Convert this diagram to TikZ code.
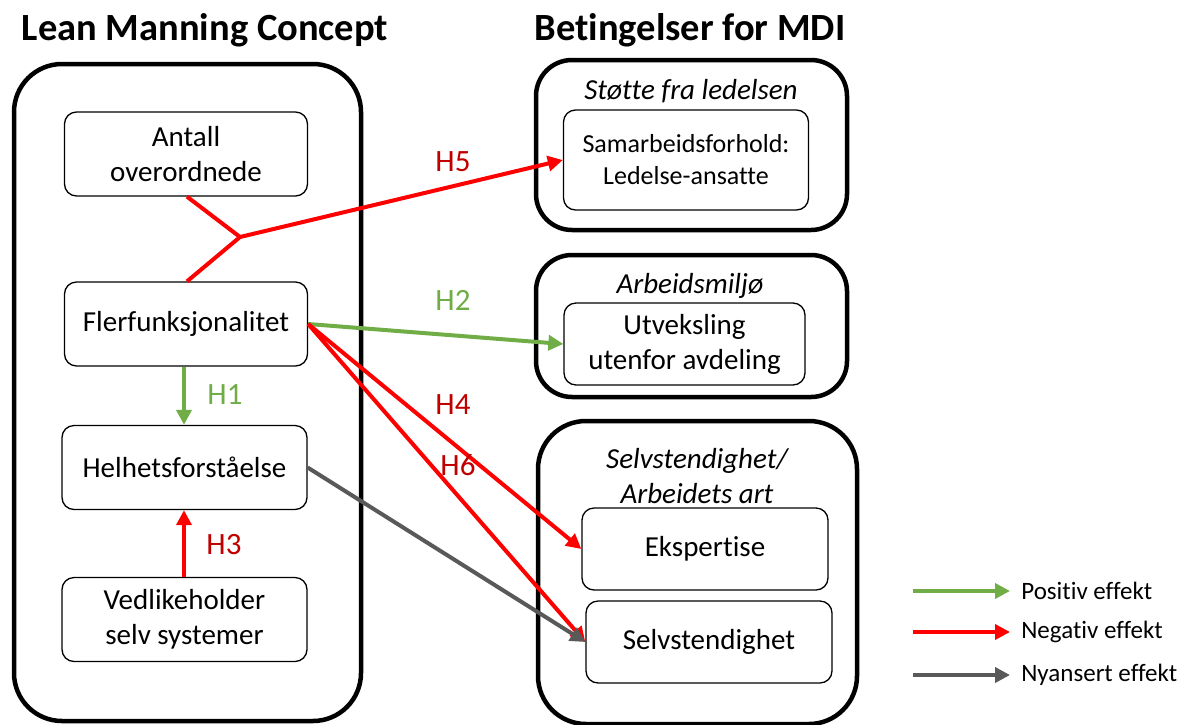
\documentclass[tikz,border=0pt]{standalone}
\usepackage{fontspec}
\setmainfont{Carlito}[Ligatures=NoCommon]
\usepackage{tikz}
\usetikzlibrary{arrows.meta}
\usepackage{xcolor}
\definecolor{posgreen}{HTML}{70AD47}
\definecolor{labred}{HTML}{C00000}
\definecolor{nyagray}{HTML}{595959}
\newcommand{\bigtxt}{\fontsize{29}{35}\selectfont}

\begin{document}
\begin{tikzpicture}[x=1pt,y=-1pt,
  box/.style={draw, rounded corners=12pt, line width=1.3pt, align=center, minimum width=243pt, minimum height=84pt, font=\bigtxt},
  group/.style={draw, rounded corners=48pt, line width=4.5pt},
  posarrow/.style={posgreen, line width=4pt, -{Triangle[length=15pt,width=15pt]}},
  negarrow/.style={red, line width=4pt, -{Triangle[length=15pt,width=15pt]}},
  nyaarrow/.style={nyagray, line width=4pt, -{Triangle[length=15pt,width=15pt]}},
  hlabel/.style={font=\fontsize{31}{36}\selectfont}]
\useasboundingbox (0,0) rectangle (1191,724);

% titles
\node [font=\fontsize{38.5}{44}\selectfont\bfseries] (tlmc) at (205,30) {Lean Manning Concept};
\node [font=\fontsize{38.5}{44}\selectfont\bfseries] (tmdi) at (690,30) {Betingelser for MDI};

% group frames
\draw [group] (14,64) rectangle (361,721);
\draw [group, rounded corners=36pt] (536,60) rectangle (847,230);
\draw [group, rounded corners=36pt] (536,255) rectangle (847,397);
\draw [group] (538,421) rectangle (857,724);

% left side
\node [box] (antall) at (186,154) {Antall\\overordnede};
\node [box] (fler) at (186,324) {Flerfunksjonalitet};
\node [box, minimum width=245pt] (helhet) at (184.5,467.5) {Helhetsforståelse};
\node [box, minimum width=245pt] (vedl) at (184.5,619.5) {Vedlikeholder\\selv systemer};

% right side
\node [font=\bigtxt\itshape] (tstotte) at (691,91) {Støtte fra ledelsen};
\node [box, minimum width=245pt, minimum height=100pt, font=\fontsize{26}{32}\selectfont] (samarb) at (686,160) {Samarbeidsforhold:\\Ledelse-ansatte};
\node [font=\bigtxt\itshape] (tarb) at (690,286) {Arbeidsmiljø};
\node [box, minimum width=241pt, minimum height=82pt] (utveks) at (684.5,344) {Utveksling\\utenfor avdeling};
\node [font=\bigtxt\itshape, align=center] (tselv) at (697,476) {Selvstendighet/\\Arbeidets art};
\node [box, minimum width=246pt, minimum height=82pt] (ekspert) at (705,549) {Ekspertise};
\node [box, minimum width=246pt, minimum height=82pt] (selv) at (709,642) {Selvstendighet};

% hypotheses
\coordinate (knot) at (240,237);
\draw [red, line width=4pt] (antall.south) ++(1,0) -- (knot) -- ([xshift=1pt]fler.north);
\draw [negarrow] (knot) -- (samarb.west);
\draw [posarrow] (fler.east) -- (utveks.west);
\draw [posarrow] ([xshift=-2pt]fler.south) -- ([xshift=-0.5pt]helhet.north);
\draw [negarrow] ([xshift=-0.5pt]vedl.north) -- ([xshift=-0.5pt]helhet.south);
\draw [negarrow] (fler.east) -- (ekspert.west);
\draw [negarrow] (fler.east) -- (selv.west);
\draw [nyaarrow] (helhet.east) -- (selv.west);

\node [hlabel, labred] (h5) at (453,162) {H5};
\node [hlabel, posgreen] (h2) at (453,300) {H2};
\node [hlabel, posgreen] (h1) at (225,395) {H1};
\node [hlabel, labred] (h3) at (224,545) {H3};
\node [hlabel, labred] (h4) at (453,405) {H4};
\node [hlabel, labred] (h6) at (458,465) {H6};

% legend
\coordinate (lpos) at (913,591);
\coordinate (lneg) at (913,632);
\coordinate (lnya) at (913,675);
\draw [posarrow] (lpos) -- ++(97,0) node [black, right=6pt, font=\fontsize{25}{30}\selectfont] (tpos) {Positiv effekt};
\draw [negarrow] (lneg) -- ++(97,0) node [black, right=6pt, font=\fontsize{25}{30}\selectfont] (tneg) {Negativ effekt};
\draw [nyaarrow] (lnya) -- ++(97,0) node [black, right=6pt, font=\fontsize{25}{30}\selectfont] (tnya) {Nyansert effekt};

\end{tikzpicture}
\end{document}
